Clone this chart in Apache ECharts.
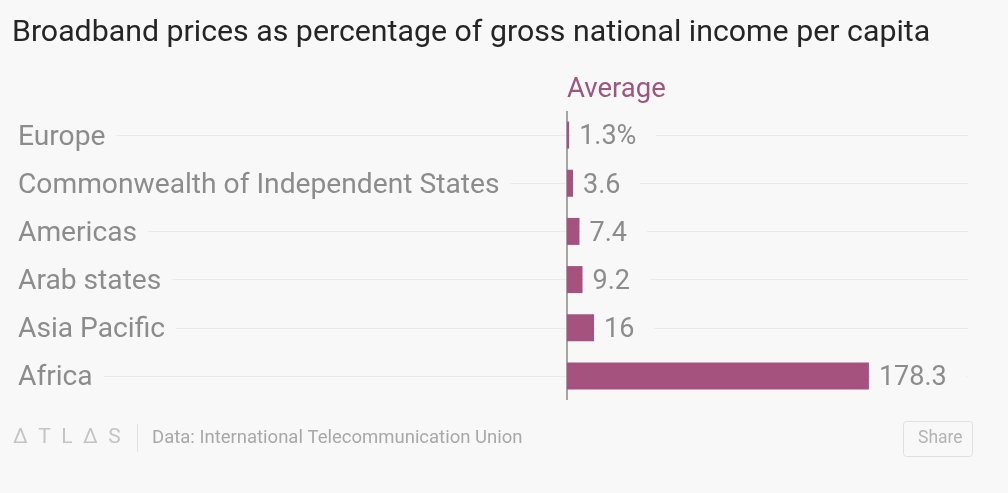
<!DOCTYPE html>
<html>
<head>
<meta charset="utf-8">
<script src="https://cdn.jsdelivr.net/npm/echarts@6/dist/echarts.min.js"></script>
<style>
html,body{margin:0;padding:0;background:#f8f8f8;}
#chart{width:1008px;height:493px;}
</style>
</head>
<body>
<div id="chart"></div>
<script>
const titleText = 'Broadband prices as percentage of gross national income per capita';
const seriesName = 'Average';
const categories = ['Europe', 'Commonwealth of Independent States', 'Americas', 'Arab states', 'Asia Pacific', 'Africa'];
const values = [1.3, 3.6, 7.4, 9.2, 16, 178.3];
const sourceText = 'Data: International Telecommunication Union';

const FONT = 'Roboto, "Noto Sans", sans-serif';
const BG = '#f8f8f8';
const chart = echarts.init(document.getElementById('chart'));
chart.setOption({
  backgroundColor: BG,
  animation: false,
  title: {
    text: titleText,
    left: 7, top: 13,
    textStyle: { fontFamily: FONT, fontWeight: 'normal', fontSize: 30.3, color: '#252525' }
  },
  legend: {
    data: [seriesName],
    left: 557, top: 71,
    itemWidth: 0, itemHeight: 0,
    textStyle: { fontFamily: FONT, fontSize: 27.5, color: '#9e5580' }
  },
  grid: { left: 18, right: 40, top: 111, bottom: 93 },
  xAxis: { type: 'value', min: -324.1, max: 236.8, show: false },
  yAxis: {
    type: 'category', data: categories, inverse: true, z: 3,
    axisLine: { show: false, onZero: false }, axisTick: { show: false },
    splitLine: { show: false },
    axisLabel: {
      inside: true, margin: 0, align: 'left',
      backgroundColor: BG, padding: [0, 11, 0, 0],
      formatter: v => '{a|' + v + '}',
      rich: { a: { fontFamily: FONT, fontSize: 28.2, color: '#8c8c8c', padding: [5, 0, 0, 0] } }
    }
  },
  series: [{
    name: seriesName, type: 'bar', data: values, barWidth: 27, z: 2,
    itemStyle: { color: '#a5527f' },
    label: {
      show: true, position: 'right', distance: 2,
      backgroundColor: BG, padding: [0, 20, 0, 8],
      formatter: p => '{a|' + (p.dataIndex === 0 ? p.value + '%' : String(p.value)) + '}',
      rich: { a: { fontFamily: FONT, fontSize: 27, color: '#8c8c8c', padding: [5, 0, 0, 0] } }
    },
    markLine: {
      silent: true, symbol: 'none', z: 1, label: { show: false },
      data: categories.map(c => ({ yAxis: c, lineStyle: { color: '#e9e9e9', width: 1, type: 'solid' } }))
        .concat([{ xAxis: 0, lineStyle: { color: '#8a8a8a', width: 1.5, type: 'solid' } }])
    }
  }],
  graphic: [
    { type: 'text', left: 13, top: 427, style: { text: 'Δ  T  L  Δ  S', fontFamily: FONT, fontSize: 21, fill: '#c4c4c4' } },
    { type: 'rect', left: 137, top: 424, shape: { width: 1, height: 28 }, style: { fill: '#e2e2e2' } },
    { type: 'text', left: 152, top: 429, style: { text: sourceText, fontFamily: FONT, fontSize: 18.5, fill: '#a8a8a8' } },
    { type: 'rect', left: 903, top: 421, shape: { width: 69, height: 35, r: 3 }, style: { fill: BG, stroke: '#e0e0e0', lineWidth: 1 } },
    { type: 'text', left: 918, top: 430, style: { text: 'Share', fontFamily: FONT, fontSize: 17.5, fill: '#b4b4b4' } }
  ]
});
</script>
</body>
</html>
